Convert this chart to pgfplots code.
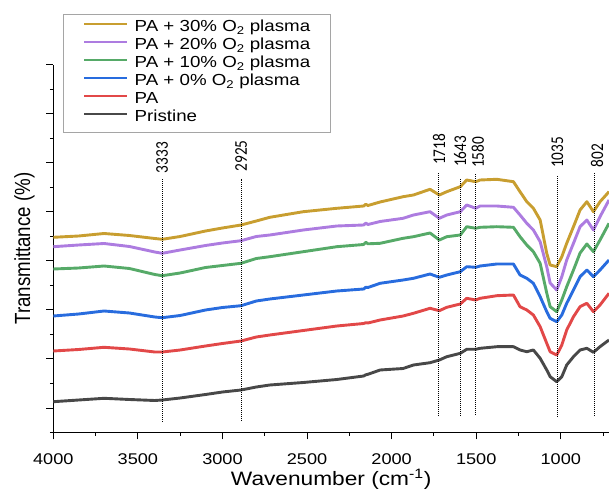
\documentclass[border=0pt]{standalone}
\usepackage{fontspec}
\setmainfont{Liberation Sans}[FakeStretch=1.17]
\newfontfamily\plainsans{Liberation Sans}
\newfontfamily\calib{Carlito}
\usepackage{graphicx}
\usepackage{pgfplots}
\usepackage{pgfplotstable}
\pgfplotsset{compat=1.18}
\definecolor{cgold}{RGB}{200,158,48}
\definecolor{cpurple}{RGB}{173,124,224}
\definecolor{cgreen}{RGB}{86,170,104}
\definecolor{cblue}{RGB}{40,108,222}
\definecolor{cred}{RGB}{226,72,72}
\definecolor{cgray}{RGB}{72,72,72}
\definecolor{legendgray}{RGB}{165,165,165}
\pgfplotstableread{
wn gold purple green blue red pristine
4000 195.0 185.6 163.3 116.3 81.3 30.6
3850 196.3 187.3 164.3 118.3 82.8 32.3
3700 198.8 188.8 166.3 121.3 85.0 34.0
3550 196.8 185.8 163.8 119.3 83.3 32.8
3400 193.8 180.3 157.8 115.3 80.3 31.8
3356 193.0 179.0 156.6 114.6 80.3 32.3
3250 195.8 182.3 159.3 116.8 82.3 34.3
3100 201.3 186.8 164.8 122.3 86.3 37.8
3000 204.3 189.3 166.8 124.8 88.8 40.3
2890 207.3 191.6 169.0 126.6 91.3 42.3
2800 211.3 195.8 173.8 131.3 95.3 45.3
2720 215.0 197.3 175.6 133.3 97.3 47.3
2522 220.6 202.3 180.6 137.3 101.8 49.8
2324 224.0 206.3 185.6 141.3 106.3 52.8
2165 226.3 207.3 187.8 143.3 108.8 56.3
2153 228.0 209.2 190.0 145.0 109.6 57.5
2140 226.8 207.8 188.5 144.8 109.3 58.0
2068 230.3 210.8 189.0 149.0 112.3 62.3
1932 235.6 214.0 194.0 152.3 116.3 63.8
1871 237.3 217.3 195.6 154.0 119.0 67.3
1773 243.0 220.6 199.3 158.3 124.0 69.6
1718 237.3 214.0 192.3 155.0 121.6 72.3
1674 240.6 217.3 195.6 157.3 125.0 75.6
1594 245.6 220.6 197.3 160.6 128.3 79.0
1556 252.3 227.3 205.6 165.6 134.0 83.0
1503 250.6 224.0 204.0 165.0 132.3 83.0
1477 252.3 226.3 205.0 166.3 134.0 84.0
1378 253.0 226.3 205.6 168.3 136.6 85.6
1280 250.6 225.0 205.0 168.3 137.3 85.6
1241 240.6 217.3 195.6 157.3 125.6 82.3
1201 230.6 209.0 187.3 154.0 122.3 80.6
1162 224.0 202.3 180.6 149.0 117.3 82.3
1122 212.3 190.6 169.0 135.6 105.6 74.0
1083 179.0 165.6 139.3 120.6 89.0 62.3
1063 167.3 149.3 125.6 114.0 80.6 55.6
1024 165.6 142.3 120.6 110.6 77.3 50.6
994 175.6 155.6 132.3 117.3 87.3 55.6
965 189.0 172.3 145.6 129.0 102.3 67.3
925 205.6 189.0 162.3 142.3 115.6 75.6
886 222.3 205.6 179.3 155.6 125.6 82.3
846 230.6 212.3 188.3 162.3 129.0 84.0
807 220.6 202.3 180.6 155.6 120.6 80.0
768 230.6 215.6 192.3 162.3 127.3 85.6
715 240.6 232.3 209.0 172.3 139.0 92.3
}\ftir
\begin{document}
\begin{tikzpicture}
\begin{axis}[
  scale only axis, width=555.7pt, height=367.3pt,
  xmin=715, xmax=4000, x dir=reverse,
  ymin=0, ymax=367.3,
  axis x line=bottom, axis y line=left,
  axis line style={-, line width=1.1pt, black},
  xtick={1000,1500,2000,2500,3000,3500,4000},
  minor xtick={750,1250,1750,2250,2750,3250,3750},
  ytick={24.3,73.3,122.3,171.3,220.3,269.3,318.3,367.3},
  minor ytick={0,48.8,97.8,146.8,195.8,244.8,293.8,342.8},
  yticklabels={,,,,,,,},
  tick align=outside, major tick length=7pt, minor tick length=3.5pt,
  tick style={black, line width=1pt},
  /pgf/number format/assume math mode=true,
  /pgf/number format/1000 sep={},
  x tick label style={font=\fontsize{15.5}{18}\selectfont, anchor=base, yshift=-25.2pt},
  xlabel={Wavenumber (cm\textsuperscript{-1})},
  xlabel style={at={(axis description cs:0.5,-0.1462)}, anchor=base, font=\fontsize{19.4}{22}\selectfont},
  ylabel={\scalebox{1}[1.17]{\plainsans Transmittance (\%)}},
  ylabel style={at={(axis description cs:-0.0419,0.5)}, anchor=base, rotate=0, font=\fontsize{18.7}{22}\selectfont},
  legend style={at={(axis description cs:0.01745,1.1389)}, anchor=north west,
    draw=legendgray, line width=0.8pt, font=\fontsize{16}{19}\selectfont,
    inner xsep=20pt, inner ysep=5pt, row sep=0pt, /tikz/column sep=7pt,
    nodes={inner sep=0pt, text height=12.5pt, text depth=5.5pt}},
  legend cell align=left,
  legend image code/.code={\draw[#1, line width=1.3pt] (0pt,4.5pt) -- (43pt,4.5pt);},
  every axis plot/.append style={line width=2.9pt, line join=round},
]
\addplot[cgold] table[x=wn,y=gold]{\ftir};
\addlegendentry{PA + 30\% O\textsubscript{2} plasma}
\addplot[cpurple] table[x=wn,y=purple]{\ftir};
\addlegendentry{PA + 20\% O\textsubscript{2} plasma}
\addplot[cgreen] table[x=wn,y=green]{\ftir};
\addlegendentry{PA + 10\% O\textsubscript{2} plasma}
\addplot[cblue] table[x=wn,y=blue]{\ftir};
\addlegendentry{PA + 0\% O\textsubscript{2} plasma}
\addplot[cred] table[x=wn,y=red]{\ftir};
\addlegendentry{PA}
\addplot[cgray] table[x=wn,y=pristine]{\ftir};
\addlegendentry{Pristine}
% reference lines
\addplot[black, line width=1pt, dash pattern=on 1pt off 1pt, forget plot] coordinates {(3356,10.6) (3356,254.3)};
\addplot[black, line width=1pt, dash pattern=on 1pt off 1pt, forget plot] coordinates {(2890,11.3) (2890,253.6)};
\addplot[black, line width=1pt, dash pattern=on 1pt off 1pt, forget plot] coordinates {(1720,16.3) (1720,259.3)};
\addplot[black, line width=1pt, dash pattern=on 1pt off 1pt, forget plot] coordinates {(1595,16.3) (1595,254.0)};
\addplot[black, line width=1pt, dash pattern=on 1pt off 1pt, forget plot] coordinates {(1507,17.3) (1507,259.3)};
\addplot[black, line width=1pt, dash pattern=on 1pt off 1pt, forget plot] coordinates {(1020,15.6) (1020,257.3)};
\addplot[black, line width=1pt, dash pattern=on 1pt off 1pt, forget plot] coordinates {(799,16.3) (799,259.3)};
\begin{scope}[every node/.style={rotate=90, anchor=west, inner sep=0pt, font=\calib\fontsize{15.3}{18}\selectfont}]
\node at (axis cs:3356,259.0) {\scalebox{1}[1.17]{3333}};
\node at (axis cs:2890,260.6) {\scalebox{1}[1.17]{2925}};
\node at (axis cs:1720,267.3) {\scalebox{1}[1.17]{1718}};
\node at (axis cs:1595,265.3) {\scalebox{1}[1.17]{1643}};
\node at (axis cs:1490,264.3) {\scalebox{1}[1.17]{1580}};
\node at (axis cs:1020,264.3) {\scalebox{1}[1.17]{1035}};
\node at (axis cs:785,264.6) {\scalebox{1}[1.17]{802}};
\end{scope}
\coordinate (O) at (axis cs:4000,0);
\end{axis}
\pgfresetboundingbox
\path (O) ++(-53.3pt,-59.7pt) rectangle ++(609pt,492pt);
\end{tikzpicture}
\end{document}
